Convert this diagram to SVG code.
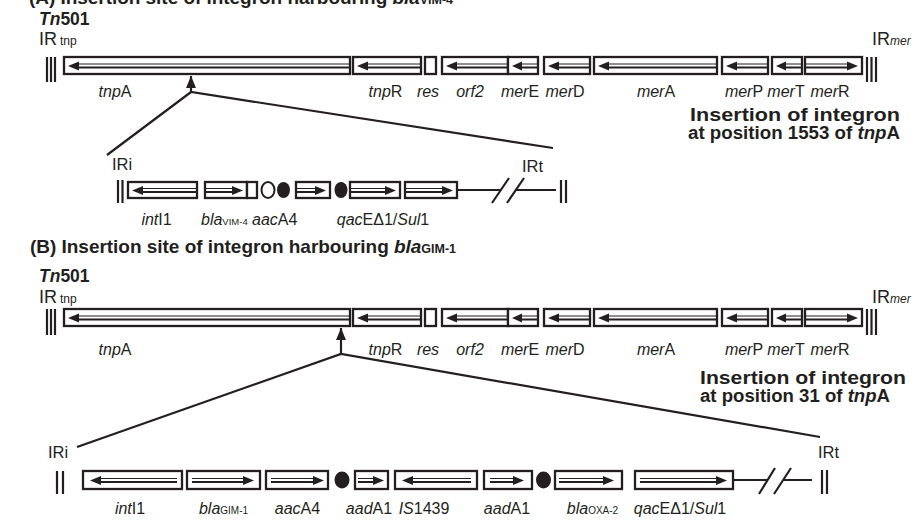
<svg xmlns="http://www.w3.org/2000/svg" width="915" height="522" viewBox="0 0 915 522">
<defs>
<style>
text{font-family:"Liberation Sans",Arial,Helvetica,sans-serif;fill:#231f20}
.lbl{font-size:16px;text-anchor:middle}
.st{text-anchor:start}
.it{font-style:italic}
.sm{font-size:10px}
.b{font-weight:bold}
.box{fill:#fff;stroke:#231f20;stroke-width:2.3}
.thin{stroke:#231f20;stroke-width:1;fill:none}
.thick{stroke:#231f20;stroke-width:2;fill:none}
.head{fill:#231f20}
.bar{stroke:#231f20;stroke-width:2.2}
.conn{stroke:#231f20;stroke-width:2.2;fill:none}
.dot{fill:#231f20}
.odot{fill:#fff;stroke:#231f20;stroke-width:2}
</style>
<marker id="ins" viewBox="0 0 12 10" refX="12" refY="5" markerWidth="12" markerHeight="10" markerUnits="userSpaceOnUse" orient="auto">
<path d="M0,0L12,5L0,10Z" fill="#231f20"/>
</marker>
</defs>
<rect width="915" height="522" fill="#fff"/>

<!-- ===== Part A ===== -->
<g id="title-a">
<text x="29" y="4" class="b" font-size="19" textLength="424">(A) Insertion site of integron harbouring <tspan class="it">bla</tspan><tspan font-size="12.5">VIM-4</tspan></text>
<text x="39" y="25" class="b" font-size="17.5"><tspan class="it">Tn</tspan>501</text>
</g>
<g id="ir-tnp-a">
<text x="39" y="45" font-size="18">IR<tspan font-size="12" dx="3">tnp</tspan></text>
<path class="bar" d="M47,57V82M51,57V82M55,57V82"/>
</g>
<g id="ir-mer-a">
<text x="872" y="45" font-size="18">IR<tspan font-size="12" class="it">mer</tspan></text>
<path class="bar" d="M867,57V82M871.5,57V82M876,57V82"/>
</g>

<g id="tnpA-a"><rect class="box" x="64" y="57" width="286" height="17"/><path class="thin" d="M79,64H350"/><path class="thick" d="M79,67.5H350"/><path class="head" d="M68,66L79,61.5V70.5Z"/><text class="lbl" x="115" y="97"><tspan class="it">tnp</tspan>A</text></g>
<g id="tnpR-a"><rect class="box" x="353" y="57" width="68" height="17"/><path class="thin" d="M368,64H421"/><path class="thick" d="M368,67.5H421"/><path class="head" d="M357,66L368,61.5V70.5Z"/><text class="lbl" x="385.5" y="97"><tspan class="it">tnp</tspan>R</text></g>
<g id="res-a"><rect class="box" x="425" y="57" width="11" height="17"/><text class="lbl it" x="428" y="97">res</text></g>
<g id="orf2-a"><rect class="box" x="442" y="57" width="66" height="17"/><path class="thin" d="M457,64H508"/><path class="thick" d="M457,67.5H508"/><path class="head" d="M446,66L457,61.5V70.5Z"/><text class="lbl it" x="470" y="97">orf2</text></g>
<g id="merE-a"><rect class="box" x="508" y="57" width="30" height="17"/><path class="thin" d="M522,64H538"/><path class="thick" d="M522,67.5H538"/><path class="head" d="M512,66L522,61.5V70.5Z"/><text class="lbl" x="520" y="97"><tspan class="it">mer</tspan>E</text></g>
<g id="merD-a"><rect class="box" x="544" y="57" width="46" height="17"/><path class="thin" d="M559,64H590"/><path class="thick" d="M559,67.5H590"/><path class="head" d="M548,66L559,61.5V70.5Z"/><text class="lbl" x="565" y="97"><tspan class="it">mer</tspan>D</text></g>
<g id="merA-a"><rect class="box" x="594" y="57" width="123" height="17"/><path class="thin" d="M609,64H717"/><path class="thick" d="M609,67.5H717"/><path class="head" d="M598,66L609,61.5V70.5Z"/><text class="lbl" x="656" y="97"><tspan class="it">mer</tspan>A</text></g>
<g id="merP-a"><rect class="box" x="722" y="57" width="46" height="17"/><path class="thin" d="M737,64H768"/><path class="thick" d="M737,67.5H768"/><path class="head" d="M726,66L737,61.5V70.5Z"/><text class="lbl" x="744" y="97"><tspan class="it">mer</tspan>P</text></g>
<g id="merT-a"><rect class="box" x="772" y="57" width="30" height="17"/><path class="thin" d="M786,64H802"/><path class="thick" d="M786,67.5H802"/><path class="head" d="M776,66L786,61.5V70.5Z"/><text class="lbl" x="786" y="97"><tspan class="it">mer</tspan>T</text></g>
<g id="merR-a"><rect class="box" x="805" y="57" width="57" height="17"/><path class="thin" d="M805,64H847"/><path class="thick" d="M805,67.5H847"/><path class="head" d="M858,66L847,61.5V70.5Z"/><text class="lbl" x="830" y="97"><tspan class="it">mer</tspan>R</text></g>

<g id="note-a">
<text x="690" y="121" class="b" font-size="18" textLength="210" lengthAdjust="spacingAndGlyphs">Insertion of integron</text>
<text x="688" y="138.5" class="b" font-size="18" textLength="212" lengthAdjust="spacingAndGlyphs">at position 1553 of <tspan class="it">tnp</tspan>A</text>
</g>

<!-- integron A -->
<g id="iri-a"><text x="112" y="170" font-size="16.5">IRi</text><path class="bar" d="M118,180V203M122.5,180V203"/></g>
<g id="intI1-a"><rect class="box" x="128" y="182" width="69" height="16"/><path class="thin" d="M143,188.5H197"/><path class="thick" d="M143,192H197"/><path class="head" d="M132,190.5L143,186V195Z"/><text class="lbl" x="156.5" y="225"><tspan class="it">int</tspan>I1</text></g>
<g id="blaVIM4-a"><rect class="box" x="205" y="182" width="42" height="16"/><rect class="box" x="247" y="182" width="10" height="16"/><path class="thin" d="M205,188.5H232"/><path class="thick" d="M205,192H232"/><path class="head" d="M243,190.5L232,186V195Z"/><text class="lbl st" x="201" y="225"><tspan class="it">bla</tspan><tspan font-size="9.5">VIM-4</tspan></text></g>
<g id="attC-open-a"><ellipse class="odot" cx="268" cy="190" rx="6.5" ry="8"/></g>
<g id="attC-1-a"><ellipse class="dot" cx="283.5" cy="190" rx="6.5" ry="8"/></g>
<g id="aacA4-a"><rect class="box" x="296" y="182" width="34" height="16"/><path class="thin" d="M296,188.5H315"/><path class="thick" d="M296,192H315"/><path class="head" d="M326,190.5L315,186V195Z"/><text class="lbl st" x="252" y="225"><tspan class="it">aac</tspan>A4</text></g>
<g id="attC-2-a"><ellipse class="dot" cx="341" cy="190" rx="6.5" ry="8"/></g>
<g id="qacE-a"><rect class="box" x="350" y="182" width="50" height="16"/><path class="thin" d="M350,188.5H385"/><path class="thick" d="M350,192H385"/><path class="head" d="M396,190.5L385,186V195Z"/><rect class="box" x="405" y="182" width="52" height="16"/><path class="thin" d="M405,188.5H442"/><path class="thick" d="M405,192H442"/><path class="head" d="M453,190.5L442,186V195Z"/><text class="lbl" x="383" y="225"><tspan class="it">qac</tspan>EΔ1/<tspan class="it">Sul</tspan>1</text></g>
<g id="irt-a"><text x="522" y="172" font-size="16.5">IRt</text><path class="bar" d="M561,180V203M566,180V203"/></g>

<!-- ===== Part B ===== -->
<g id="title-b">
<text x="30" y="253" class="b" font-size="19" textLength="426">(B) Insertion site of integron harbouring <tspan class="it">bla</tspan><tspan font-size="12.5">GIM-1</tspan></text>
<text x="39" y="282" class="b" font-size="17.5"><tspan class="it">Tn</tspan>501</text>
</g>
<g id="ir-tnp-b">
<text x="39" y="303" font-size="18">IR<tspan font-size="12" dx="3">tnp</tspan></text>
<path class="bar" d="M47,309V335M51,309V335M55,309V335"/>
</g>
<g id="ir-mer-b">
<text x="872" y="303" font-size="18">IR<tspan font-size="12" class="it">mer</tspan></text>
<path class="bar" d="M867,309V335M871.5,309V335M876,309V335"/>
</g>

<g id="tnpA-b"><rect class="box" x="64" y="309" width="286" height="17"/><path class="thin" d="M79,316H350"/><path class="thick" d="M79,319.5H350"/><path class="head" d="M68,318L79,313.5V322.5Z"/><text class="lbl" x="115" y="355"><tspan class="it">tnp</tspan>A</text></g>
<g id="tnpR-b"><rect class="box" x="353" y="309" width="68" height="17"/><path class="thin" d="M368,316H421"/><path class="thick" d="M368,319.5H421"/><path class="head" d="M357,318L368,313.5V322.5Z"/><text class="lbl" x="385.5" y="355"><tspan class="it">tnp</tspan>R</text></g>
<g id="res-b"><rect class="box" x="425" y="309" width="11" height="17"/><text class="lbl it" x="428" y="355">res</text></g>
<g id="orf2-b"><rect class="box" x="442" y="309" width="66" height="17"/><path class="thin" d="M457,316H508"/><path class="thick" d="M457,319.5H508"/><path class="head" d="M446,318L457,313.5V322.5Z"/><text class="lbl it" x="470" y="355">orf2</text></g>
<g id="merE-b"><rect class="box" x="508" y="309" width="30" height="17"/><path class="thin" d="M522,316H538"/><path class="thick" d="M522,319.5H538"/><path class="head" d="M512,318L522,313.5V322.5Z"/><text class="lbl" x="520" y="355"><tspan class="it">mer</tspan>E</text></g>
<g id="merD-b"><rect class="box" x="544" y="309" width="46" height="17"/><path class="thin" d="M559,316H590"/><path class="thick" d="M559,319.5H590"/><path class="head" d="M548,318L559,313.5V322.5Z"/><text class="lbl" x="565" y="355"><tspan class="it">mer</tspan>D</text></g>
<g id="merA-b"><rect class="box" x="594" y="309" width="123" height="17"/><path class="thin" d="M609,316H717"/><path class="thick" d="M609,319.5H717"/><path class="head" d="M598,318L609,313.5V322.5Z"/><text class="lbl" x="656" y="355"><tspan class="it">mer</tspan>A</text></g>
<g id="merP-b"><rect class="box" x="722" y="309" width="46" height="17"/><path class="thin" d="M737,316H768"/><path class="thick" d="M737,319.5H768"/><path class="head" d="M726,318L737,313.5V322.5Z"/><text class="lbl" x="744" y="355"><tspan class="it">mer</tspan>P</text></g>
<g id="merT-b"><rect class="box" x="772" y="309" width="30" height="17"/><path class="thin" d="M786,316H802"/><path class="thick" d="M786,319.5H802"/><path class="head" d="M776,318L786,313.5V322.5Z"/><text class="lbl" x="786" y="355"><tspan class="it">mer</tspan>T</text></g>
<g id="merR-b"><rect class="box" x="805" y="309" width="57" height="17"/><path class="thin" d="M805,316H847"/><path class="thick" d="M805,319.5H847"/><path class="head" d="M858,318L847,313.5V322.5Z"/><text class="lbl" x="830" y="355"><tspan class="it">mer</tspan>R</text></g>

<g id="note-b">
<text x="700" y="384" class="b" font-size="18" textLength="206" lengthAdjust="spacingAndGlyphs">Insertion of integron</text>
<text x="700" y="401.5" class="b" font-size="18" textLength="190" lengthAdjust="spacingAndGlyphs">at position 31 of <tspan class="it">tnp</tspan>A</text>
</g>

<!-- integron B -->
<g id="iri-b"><text x="48" y="458" font-size="16.5">IRi</text><path class="bar" d="M57,471V494M63,471V494"/></g>
<g id="intI1-b"><rect class="box" x="83" y="471" width="99" height="18"/><path class="thin" d="M101,478.5H177"/><path class="thick" d="M101,482H177"/><path class="head" d="M90,480.5L101,476V485Z"/><text class="lbl" x="130" y="514"><tspan class="it">int</tspan>I1</text></g>
<g id="blaGIM1-b"><rect class="box" x="187" y="471" width="73" height="18"/><path class="thin" d="M192,478.5H243"/><path class="thick" d="M192,482H243"/><path class="head" d="M254,480.5L243,476V485Z"/><text class="lbl" x="223.5" y="514"><tspan class="it">bla</tspan><tspan class="sm">GIM-1</tspan></text></g>
<g id="aacA4-b"><rect class="box" x="266" y="471" width="62" height="18"/><path class="thin" d="M271,478.5H313"/><path class="thick" d="M271,482H313"/><path class="head" d="M324,480.5L313,476V485Z"/><text class="lbl" x="297.5" y="514"><tspan class="it">aac</tspan>A4</text></g>
<g id="attC-1-b"><ellipse class="dot" cx="342" cy="480" rx="7.5" ry="8.5"/></g>
<g id="aadA1-1-b"><rect class="box" x="355" y="471" width="33" height="18"/><path class="thin" d="M358,478.5H373"/><path class="thick" d="M358,482H373"/><path class="head" d="M384,480.5L373,476V485Z"/><text class="lbl" x="369" y="514"><tspan class="it">aad</tspan>A1</text></g>
<g id="IS1439-b"><rect class="box" x="395" y="471" width="82" height="18"/><path class="thin" d="M413,478.5H471"/><path class="thick" d="M413,482H471"/><path class="head" d="M402,480.5L413,476V485Z"/><text class="lbl" x="424" y="514"><tspan class="it">IS</tspan>1439</text></g>
<g id="aadA1-2-b"><rect class="box" x="484" y="471" width="48" height="18"/><path class="thin" d="M490,478.5H513"/><path class="thick" d="M490,482H513"/><path class="head" d="M524,480.5L513,476V485Z"/><text class="lbl" x="507" y="514"><tspan class="it">aad</tspan>A1</text></g>
<g id="attC-2-b"><ellipse class="dot" cx="543.5" cy="480" rx="7.5" ry="8.5"/></g>
<g id="blaOXA2-b"><rect class="box" x="555" y="471" width="67" height="18"/><path class="thin" d="M559,478.5H603"/><path class="thick" d="M559,482H603"/><path class="head" d="M614,480.5L603,476V485Z"/><text class="lbl" x="592.5" y="514"><tspan class="it">bla</tspan><tspan class="sm">OXA-2</tspan></text></g>
<g id="qacE-b"><rect class="box" x="635" y="471" width="98" height="18"/><path class="thin" d="M640,478.5H716"/><path class="thick" d="M640,482H716"/><path class="head" d="M727,480.5L716,476V485Z"/><text class="lbl" x="680" y="514"><tspan class="it">qac</tspan>EΔ1/<tspan class="it">Sul</tspan>1</text></g>
<g id="irt-b"><text x="818" y="458" font-size="16.5">IRt</text><path class="bar" d="M822,470V494M827,470V494"/></g>

<!-- connectors -->
<g id="connectors">
<path class="conn" d="M107,155L191,92L553,148"/>
<path class="conn" d="M191,92V76" marker-end="url(#ins)"/>
<path class="conn" d="M457,190H500.5M515.5,190H556M492,203L509,178M507,203L524,178"/>
<path class="conn" d="M77,447L341,354L820,437"/>
<path class="conn" d="M341,354V328" marker-end="url(#ins)"/>
<path class="conn" d="M733,480H767M782.5,480H812M759,494L775,468M774,494L791,468"/>
</g>
</svg>
